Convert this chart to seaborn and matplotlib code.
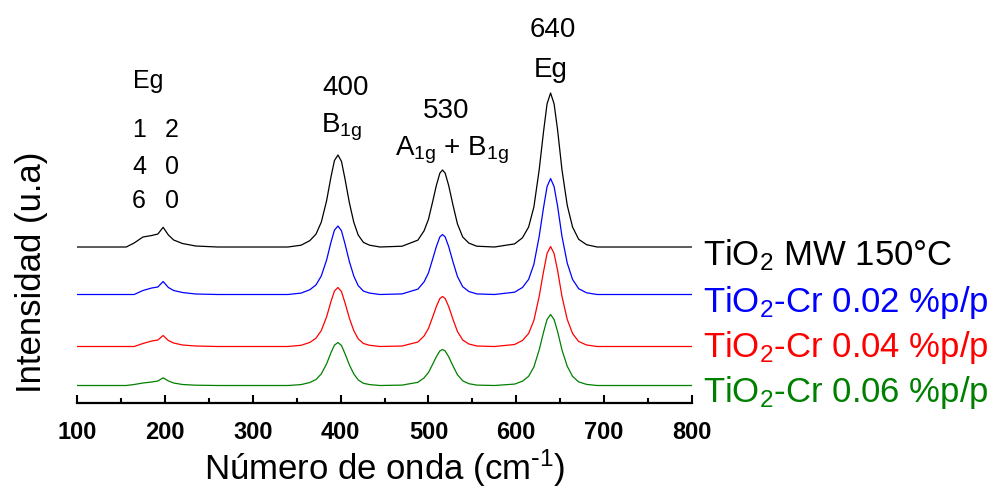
import pandas as pd
import matplotlib
matplotlib.use("Agg")
import matplotlib.pyplot as plt
import seaborn as sns

# Raman shift grid (cm-1) and stacked intensities
wavenumber = [100, 150, 156, 165, 175, 185, 192, 198, 204, 210, 220, 235, 260, 300, 340,
              355, 365, 372, 378, 384, 389, 393, 397, 401, 405, 410, 415, 420, 426, 433, 445,
              470, 488, 495, 500, 505, 509, 513, 516, 519, 523, 528, 533, 539, 546, 555, 575,
              598, 607, 614, 620, 626, 631, 635, 639, 643, 647, 652, 658, 664, 671, 680, 692,
              710, 760, 800]

tio2_mw = [156, 156, 156, 160, 166, 167.5, 169, 175.7, 168, 163, 159.5, 157, 156, 156, 156,
           157.8, 162.4, 168.9, 180.8, 202, 225.9, 242.5, 248, 241.6, 224.1, 200.2, 180.8, 168, 160.6, 157.8, 156,
           156.8, 162.9, 172.2, 183.7, 202.2, 217.6, 229.9, 233, 229.9, 217.6, 197.6, 179.1, 166, 159.9, 156.8, 156,
           159.1, 165.2, 176, 196, 233, 271.5, 299.2, 310, 299.2, 273, 233, 197.6, 176, 163.7, 158.3, 156,
           156, 156, 156]

cr_002 = [108.5, 108.5, 108.5, 108.5, 112.5, 115, 116, 121.5, 115.5, 112.5, 110.5, 109, 108.5, 108.5, 108.5,
          109.9, 113.3, 118.1, 127, 142.8, 160.6, 172.9, 177, 172.2, 159.2, 141.4, 127, 117.4, 111.9, 109.9, 108.5,
          109.1, 113.9, 121.1, 130.1, 144.5, 156.5, 166.1, 168.5, 166.1, 156.5, 140.9, 126.5, 116.3, 111.5, 109.1, 108.5,
          110.8, 115.5, 123.6, 138.7, 166.5, 195.5, 216.4, 224.5, 216.4, 196.7, 166.5, 139.8, 123.6, 114.3, 110.2, 108.5,
          108.5, 108.5, 108.5]

cr_004 = [56.5, 56.5, 56.5, 56.5, 59.5, 62, 63, 67.5, 62.5, 60, 58, 57, 56.5, 56.5, 56.5,
          57.7, 60.6, 64.8, 72.4, 86, 101.3, 112, 115.5, 111.4, 100.2, 84.8, 72.4, 64.2, 59.5, 57.7, 56.5,
          57, 61, 67, 74.5, 86.5, 96.5, 104.5, 106.5, 104.5, 96.5, 83.5, 71.5, 63, 59, 57, 56.5,
          58.5, 62.5, 69.5, 82.5, 106.5, 131.5, 149.5, 156.5, 149.5, 132.5, 106.5, 83.5, 69.5, 61.5, 58, 56.5,
          56.5, 56.5, 56.5]

cr_006 = [17.5, 17.5, 17.5, 18.5, 20, 21, 22, 25.2, 22, 20, 18.5, 17.8, 17.5, 17.5, 17.5,
          18.4, 20.5, 23.5, 29.1, 39, 50.2, 57.9, 60.5, 57.5, 49.3, 38.1, 29.1, 23.1, 19.7, 18.4, 17.5,
          17.9, 20.7, 25.1, 30.5, 39.1, 46.3, 52.1, 53.5, 52.1, 46.3, 36.9, 28.3, 22.2, 19.3, 17.9, 17.5,
          18.9, 21.8, 26.7, 36, 53, 70.8, 83.5, 88.5, 83.5, 71.5, 53, 36.7, 26.7, 21.1, 18.6, 17.5,
          17.5, 17.5, 17.5]

samples = ["TiO$_2$ MW 150°C", "TiO$_2$-Cr 0.02 %p/p", "TiO$_2$-Cr 0.04 %p/p", "TiO$_2$-Cr 0.06 %p/p"]
colors = ["black", "blue", "red", "green"]

frames = []
for name, vals in zip(samples, [tio2_mw, cr_002, cr_004, cr_006]):
    frames.append(pd.DataFrame({"x": wavenumber, "y": vals, "sample": name}))
df = pd.concat(frames, ignore_index=True)

sns.set_style("ticks")
plt.rcParams["font.family"] = ["Liberation Sans", "DejaVu Sans"]
plt.rcParams["mathtext.default"] = "regular"
plt.rcParams["text.color"] = "black"
plt.rcParams["axes.labelcolor"] = "black"
plt.rcParams["xtick.color"] = "black"
plt.rcParams["axes.edgecolor"] = "black"

fig = plt.figure(figsize=(9.94, 4.96), dpi=100)
ax = fig.add_axes([0.0775, 0.1875, 0.6187, 0.7923])

sns.lineplot(data=df, x="x", y="y", hue="sample", palette=colors, legend=False,
             estimator=None, sort=False, linewidth=0.9, ax=ax)

ax.set_xlim(100, 800)
ax.set_ylim(0, 393)
ax.set_xticks(range(100, 801, 100))
ax.set_xticks(range(150, 800, 100), minor=True)
ax.set_yticks([])
sns.despine(ax=ax, left=True)
ax.spines["bottom"].set_linewidth(1.6)
ax.tick_params(axis="x", which="major", direction="in", length=6, width=1.5, pad=13)
ax.tick_params(axis="x", which="minor", direction="in", length=3.5, width=1.5)
for lab in ax.get_xticklabels():
    lab.set_fontweight("bold")
    lab.set_fontsize(17)

ax.set_xlabel(r"Número de onda (cm$^{\text{-}1}$)", fontsize=25)
ax.xaxis.set_label_coords(0.5, -0.112)
ax.set_ylabel("Intensidad (u.a)", fontsize=25)
ax.yaxis.set_label_coords(-0.047, 0.333)

# peak annotations
ax.text(181, 315, "Eg", fontsize=18, ha="center", va="baseline")
for row, (a, b) in enumerate([("1", "2"), ("4", "0"), ("6", "0")]):
    yb = [266, 229, 195][row]
    ax.text(170.5, yb, a, fontsize=18, ha="center", va="baseline")
    ax.text(208, yb, b, fontsize=18, ha="center", va="baseline")
ax.text(406, 308, "400", fontsize=20, ha="center", va="baseline")
ax.text(401, 271, "B$_{1g}$", fontsize=20, ha="center", va="baseline")
ax.text(520, 285, "530", fontsize=20, ha="center", va="baseline")
ax.text(527, 248, "A$_{1g}$ + B$_{1g}$", fontsize=20, ha="center", va="baseline")
ax.text(642, 366, "640", fontsize=20, ha="center", va="baseline", clip_on=False)
ax.text(639, 326, "Eg", fontsize=20, ha="center", va="baseline")

# sample labels on the right
for name, col, yb in zip(samples, colors, [137.3, 91.3, 46.3, 1.5]):
    ax.text(812, yb, name, color=col, fontsize=25, ha="left", va="baseline", clip_on=False)

fig.savefig("out.png", dpi=100)
